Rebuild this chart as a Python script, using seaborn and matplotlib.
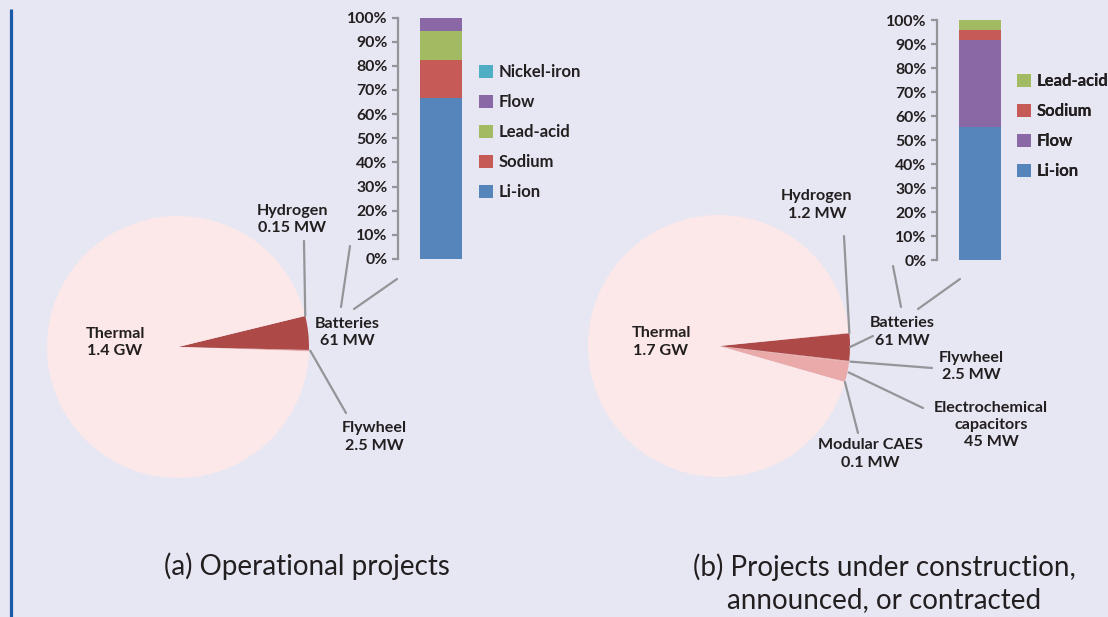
import matplotlib
matplotlib.use("Agg")
import numpy as np
import matplotlib.pyplot as plt
import seaborn as sns
from matplotlib.patches import Patch, ConnectionPatch

# ---- installed capacity by technology (MW) ----
op_pie_names = ["Flywheel", "Batteries", "Hydrogen", "Thermal"]
op_pie_mw = [2.5, 61, 0.15, 1400]
op_pie_text = ["Flywheel\n2.5 MW", "Batteries\n61 MW", "Hydrogen\n0.15 MW", "Thermal\n1.4 GW"]

uc_pie_names = ["Modular CAES", "Electrochemical capacitors", "Flywheel",
                "Batteries", "Hydrogen", "Thermal"]
uc_pie_mw = [0.1, 45, 2.5, 61, 1.2, 1700]
uc_pie_text = ["Modular CAES\n0.1 MW", "Electrochemical\ncapacitors\n45 MW",
               "Flywheel\n2.5 MW", "Batteries\n61 MW", "Hydrogen\n1.2 MW",
               "Thermal\n1.7 GW"]

# ---- battery chemistry shares (%) ----
op_chem = ["Li-ion", "Sodium", "Lead-acid", "Flow", "Nickel-iron"]
op_share = [66.5, 16.0, 12.0, 5.3, 0.2]
uc_chem = ["Li-ion", "Flow", "Sodium", "Lead-acid"]
uc_share = [55.3, 36.2, 4.4, 4.1]

pct_ticks = list(range(0, 101, 10))
pct_labels = [f"{t}%" for t in pct_ticks]

# ---- styling ----
BG = "#e7e7f3"
INK = "#231f20"
LEAD = "#939598"
chem_colors = {"Li-ion": "#5585bb", "Sodium": "#c65a57", "Lead-acid": "#a2bb62",
               "Flow": "#8a68a6", "Nickel-iron": "#4fadc4"}
pie_colors = {"Thermal": "#fce8e8", "Batteries": "#ad4a48",
              "Electrochemical capacitors": "#e9aaa9", "Flywheel": "#e9aaa9",
              "Hydrogen": "#e9aaa9", "Modular CAES": "#e9aaa9"}

sns.set_theme(style="white")
plt.rcParams["font.family"] = ["Lato", "DejaVu Sans"]

W, H = 1108, 617
fig = plt.figure(figsize=(W / 100, H / 100), dpi=100, facecolor=BG)


def px_axes(x0, y0, x1, y1, **kw):
    return fig.add_axes([x0 / W, 1 - y1 / H, (x1 - x0) / W, (y1 - y0) / H], **kw)


# overlay in pixel units for labels and leader lines
ov = px_axes(0, 0, W, H, zorder=5)
ov.set_xlim(0, W)
ov.set_ylim(H, 0)
ov.axis("off")
ov.patch.set_alpha(0)

ov.plot([10.5, 10.5], [9, H], color="#1b5aa6", lw=2.3, solid_capstyle="butt")

LBL = dict(fontsize=11.6, fontweight="bold", color=INK, ha="center", va="center",
           linespacing=1.28, multialignment="center")


def draw_pie(cx, cy, r, values, names, start):
    ax = px_axes(cx - r, cy - r, cx + r, cy + r)
    ax.set_facecolor("none")
    wedges, _ = ax.pie(values, colors=[pie_colors[n] for n in names],
                       startangle=start, counterclock=True, radius=1,
                       wedgeprops=dict(linewidth=0))
    ax.set_xlim(-1, 1)
    ax.set_ylim(-1, 1)
    return ax, wedges


def leader(ax, wedge, end, rad=1.0):
    ang = np.deg2rad((wedge.theta1 + wedge.theta2) / 2)
    con = ConnectionPatch(xyA=(rad * np.cos(ang), rad * np.sin(ang)), coordsA=ax.transData,
                          xyB=end, coordsB=ov.transData, color=LEAD, lw=1.6, zorder=6)
    fig.add_artist(con)


def draw_stack(x0, y0, x1, y1, names, shares):
    ax = px_axes(x0, y0, x1, y1)
    ax.set_facecolor("none")
    cum = np.cumsum(shares)
    for name, top in reversed(list(zip(names, cum))):
        sns.barplot(x=["share"], y=[top], color=chem_colors[name], width=0.49,
                    saturation=1, linewidth=0, ax=ax)
    ax.set_ylim(0, 100)
    ax.set_xlim(-0.5, 0.5)
    ax.set_yticks(pct_ticks)
    ax.set_yticklabels(pct_labels, fontweight="bold", fontsize=11.4, color=INK)
    ax.tick_params(axis="y", direction="out", length=4, width=1.6, color=LEAD, pad=3.5, left=True)
    ax.set_xticks([])
    ax.set_xlabel("")
    ax.set_ylabel("")
    for s in ["top", "right", "bottom"]:
        ax.spines[s].set_visible(False)
    ax.spines["left"].set_color(LEAD)
    ax.spines["left"].set_linewidth(1.6)
    return ax


def chem_legend(x, y, names):
    handles = [Patch(facecolor=chem_colors[n], edgecolor="none", label=n) for n in names]
    leg = ov.legend(handles=handles, loc="upper left", bbox_to_anchor=(x, y),
                    bbox_transform=ov.transData, frameon=False, borderpad=0,
                    borderaxespad=0, handlelength=0.84, handleheight=0.84,
                    handletextpad=0.36, labelspacing=0.84,
                    prop=dict(weight="bold", size=12))
    for t in leg.get_texts():
        t.set_color(INK)
    ov.add_artist(leg)
    return leg


# ---------------- (a) operational ----------------
axa, wa = draw_pie(178, 347, 131, op_pie_mw, op_pie_names, start=-1.9)
ov.text(115, 342.5, op_pie_text[3], **LBL)
ov.text(292, 219.5, op_pie_text[2], **LBL)
ov.text(347, 332.5, op_pie_text[1], **LBL)
ov.text(374, 437, op_pie_text[0], **LBL)
leader(axa, wa[2], (304, 241))
leader(axa, wa[0], (346, 413), rad=1.01)
ov.plot([341, 350], [307, 246], color=LEAD, lw=1.6)
ov.plot([354, 397], [309, 279], color=LEAD, lw=1.6)

draw_stack(398, 17.5, 484, 259, op_chem, op_share)
chem_legend(479, 64, op_chem[::-1])

ov.text(307, 566, "(a) Operational projects", fontsize=20, color=INK,
        ha="center", va="center")

# ---------------- (b) under construction ----------------
axb, wb = draw_pie(719, 346, 131, uc_pie_mw, uc_pie_names, start=-16)
ov.text(661, 342, uc_pie_text[5], **LBL)
ov.text(817, 205, uc_pie_text[4], **LBL)
ov.text(902, 332, uc_pie_text[3], **LBL)
ov.text(971, 366.5, uc_pie_text[2], **LBL)
ov.text(991, 425, uc_pie_text[1], **LBL)
ov.text(870, 454, uc_pie_text[0], **LBL)
leader(axb, wb[4], (844, 236))
leader(axb, wb[3], (873, 336))
leader(axb, wb[2], (932, 368), rad=1.01)
leader(axb, wb[1], (923, 408), rad=1.01)
leader(axb, wb[0], (858, 433))
ov.plot([893, 901], [266, 307], color=LEAD, lw=1.6)
ov.plot([918, 960], [309, 279], color=LEAD, lw=1.6)

draw_stack(937, 20, 1023, 260, uc_chem, uc_share)
chem_legend(1017, 73, uc_chem[::-1])

ov.text(884, 583.5, "(b) Projects under construction,\nannounced, or contracted",
        fontsize=20, color=INK, ha="center", va="center", linespacing=1.3)

fig.savefig("out.png", dpi=100, facecolor=BG)
